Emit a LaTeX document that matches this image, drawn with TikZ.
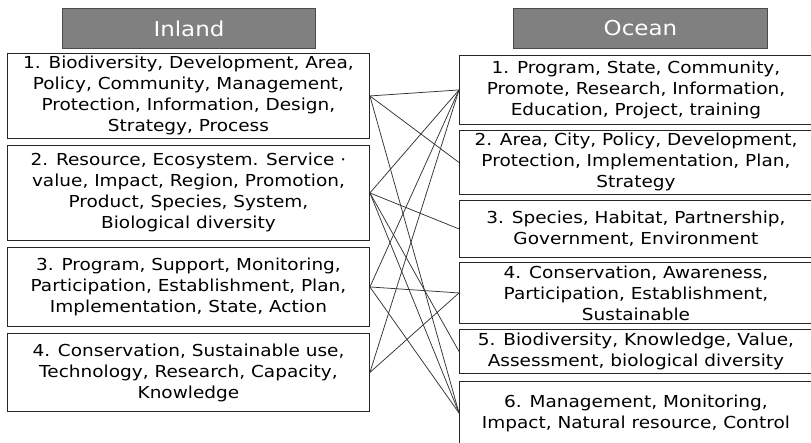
\documentclass[tikz,border=0pt]{standalone}
\usepackage{fontspec}
\newfontfamily\boxfont[FakeStretch=1.12]{DejaVu Sans}
\begin{document}
\begin{tikzpicture}[x=1pt, y=-1pt]
        \tikzstyle{headstyle}=[shape=rectangle, draw=black!70, fill=black!50, text=white, line width=0.9pt, anchor=north west, inner sep=0pt, font=\boxfont\fontsize{20.5}{24}\selectfont]
        \tikzstyle{boxstyle}=[shape=rectangle, draw=black!85, line width=0.9pt, anchor=north west, inner sep=0pt, align=center, font=\boxfont\fontsize{16.5}{21}\selectfont]
        \tikzstyle{linkstyle}=[draw=black!80, line width=0.75pt]

        \useasboundingbox (0,0) rectangle (811,443);

        % column headers
        \node[headstyle, minimum width=253pt, minimum height=40pt] at (62,8) (inhead) {Inland};
        \node[headstyle, minimum width=254pt, minimum height=40pt] at (513,8) (ochead) {Ocean};

        % inland keyword groups
        \node[boxstyle, minimum width=362pt, minimum height=85pt] at (7,53) (in1) {1. Biodiversity, Development, Area,\\ Policy, Community, Management,\\ Protection, Information, Design,\\ Strategy, Process};
        \node[boxstyle, minimum width=362pt, minimum height=95pt] at (7,145) (in2) {2. Resource, Ecosystem. Service ·\\ value, Impact, Region, Promotion,\\ Product, Species, System,\\ Biological diversity};
        \node[boxstyle, minimum width=362pt, minimum height=79pt] at (7,247) (in3) {3. Program, Support, Monitoring,\\ Participation, Establishment, Plan,\\ Implementation, State, Action};
        \node[boxstyle, minimum width=362pt, minimum height=78pt] at (7,333) (in4) {4. Conservation, Sustainable use,\\ Technology, Research, Capacity,\\ Knowledge};

        % ocean keyword groups
        \node[boxstyle, minimum width=353pt, minimum height=69pt] at (459,55) (oc1) {1. Program, State, Community,\\ Promote, Research, Information,\\ Education, Project, training};
        \node[boxstyle, minimum width=353pt, minimum height=64pt] at (459,130) (oc2) {2. Area, City, Policy, Development,\\ Protection, Implementation, Plan,\\ Strategy};
        \node[boxstyle, minimum width=353pt, minimum height=57pt] at (459,200) (oc3) {3. Species, Habitat, Partnership,\\ Government, Environment};
        \node[boxstyle, minimum width=353pt, minimum height=61pt] at (459,262) (oc4) {4. Conservation, Awareness,\\ Participation, Establishment,\\ Sustainable};
        \node[boxstyle, minimum width=353pt, minimum height=44pt] at (459,329) (oc5) {5. Biodiversity, Knowledge, Value,\\ Assessment, biological diversity};
        \node[boxstyle, minimum width=353pt, minimum height=63pt] at (459,381) (oc6) {6. Management, Monitoring,\\ Impact, Natural resource, Control};

        % links between the groups
        \foreach \a/\b in {in1/oc1, in1/oc2, in1/oc6, in2/oc1, in2/oc3, in2/oc5, in2/oc6, in3/oc1, in3/oc4, in3/oc6, in4/oc1, in4/oc4}
        {
          \draw[linkstyle] (\a.east) -- (\b.west);
        };
    \end{tikzpicture}
\end{document}
